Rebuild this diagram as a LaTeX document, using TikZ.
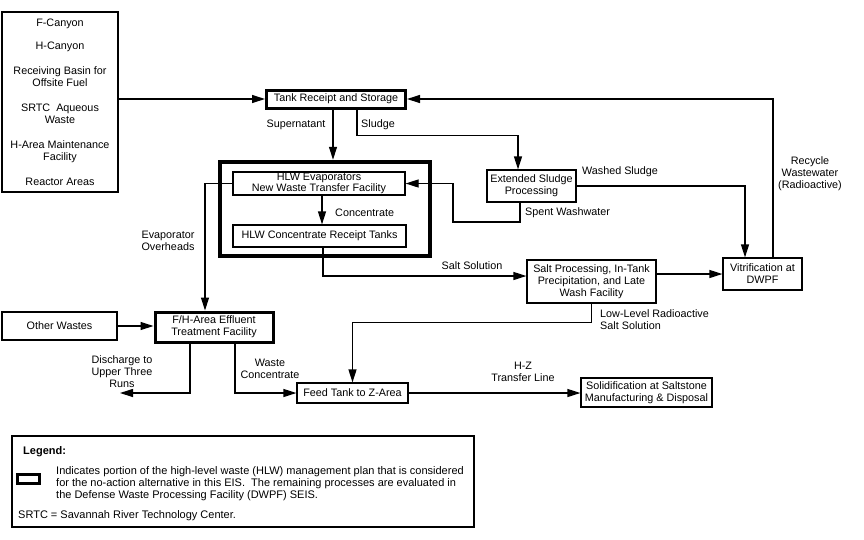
\documentclass[tikz,border=0pt]{standalone}
\usepackage{fontspec}
\setmainfont{Liberation Sans}
\usetikzlibrary{arrows.meta}

\begin{document}
\begin{tikzpicture}[x=1pt,y=1pt,font=\fontsize{10.8}{12}\selectfont,
    flow/.style={draw,line width=1.2pt,-{Triangle[length=13pt,width=8pt]}},
    box/.style={draw,line width=1.2pt,align=center},
    heavybox/.style={draw,line width=3pt,align=center},
    lbl/.style={align=center}]
    \tikzstyle{every node}+=[inner sep=0pt]
    \useasboundingbox (0,0) rectangle (864,-539);
    \node [box,minimum width=116pt,minimum height=180pt] (sources) at (60,-102) {F-Canyon\\[11pt]H-Canyon\\[13pt]Receiving Basin for\\Offsite Fuel\\[13pt]SRTC~ Aqueous\\Waste\\[13pt]H-Area Maintenance\\Facility\\[13pt]Reactor Areas};
    \node [heavybox,minimum width=139pt,minimum height=18pt] (tank) at (336,-99) {Tank Receipt and Storage};
    \node [draw,line width=4.5pt,minimum width=210pt,minimum height=94pt] (hlwarea) at (325,-209) {};
    \node [box,minimum width=172pt,minimum height=23pt,font=\fontsize{10.8}{9.5}\selectfont] (evap) at (319,-183.5) {HLW Evaporators\\New Waste Transfer Facility};
    \node [box,minimum width=173pt,minimum height=22pt] (conc) at (319.5,-236) {HLW Concentrate Receipt Tanks};
    \node [box,minimum width=89pt,minimum height=32pt] (esp) at (531.5,-186) {Extended Sludge\\Processing};
    \node [box,minimum width=129pt,minimum height=43pt] (salt) at (591.5,-281.5) {Salt Processing, In-Tank\\Precipitation, and Late\\Wash Facility};
    \node [box,minimum width=79pt,minimum height=32pt] (vit) at (762.5,-274) {Vitrification at\\DWPF};
    \node [heavybox,minimum width=118pt,minimum height=30pt] (fh) at (214,-327) {F/H-Area Effluent\\Treatment Facility};
    \node [box,minimum width=115pt,minimum height=28pt] (other) at (59.5,-326) {Other Wastes};
    \node [box,minimum width=111pt,minimum height=20pt] (feed) at (352.5,-393) {Feed Tank to Z-Area};
    \node [box,minimum width=131pt,minimum height=29pt] (solid) at (646.5,-392.5) {Solidification at Saltstone\\Manufacturing \& Disposal};
    \coordinate (spent) at (453,-222);
    \coordinate (discharge) at (120,-393);
    \draw [flow] (sources.east |- tank.west) -- (tank.west);
    \draw [flow] ([xshift=10.5pt]vit.north) |- (tank.east);
    \draw [flow] ([xshift=-3pt]tank.south) -- ([xshift=-3pt]tank.south |- hlwarea.north);
    \draw [flow] ([xshift=21pt]tank.south) -- ++(0,-26) -| ([xshift=-13.5pt]esp.north);
    \draw [flow] ([xshift=-11.5pt]esp.south) |- (spent) |- (evap.east);
    \draw [flow] (esp.east) -| ([xshift=-17.5pt]vit.north);
    \draw [flow] ([xshift=3pt]evap.south) -- ([xshift=3pt]evap.south |- conc.north);
    \draw [flow] ([xshift=3.5pt]conc.south) |- ([yshift=5.5pt]salt.west);
    \draw [flow] (salt.east |- vit.west) -- (vit.west);
    \draw [flow] (salt.south) -- ++(0,-19) -| (feed.north);
    \draw [flow] (evap.west) -| ([xshift=-9pt]fh.north);
    \draw [flow] (other.east) -- (other.east -| fh.west);
    \draw [flow] ([xshift=-24pt]fh.south) |- (discharge);
    \draw [flow] ([xshift=21pt]fh.south) |- (feed.west);
    \draw [flow] (feed.east) -- (feed.east -| solid.west);
    \node [lbl] (supernatantlbl) at (296,-125) {Supernatant};
    \node [lbl] (sludgelbl) at (378,-125) {Sludge};
    \node [lbl] (washedlbl) at (620,-172) {Washed Sludge};
    \node [lbl,anchor=west] (spentlbl) at (525,-213) {Spent Washwater};
    \node [lbl,anchor=west] (conclbl) at (335,-213) {Concentrate};
    \node [lbl] (recyclelbl) at (810,-174) {Recycle\\Wastewater\\(Radioactive)};
    \node [lbl] (evaplbl) at (168,-241) {Evaporator\\Overheads};
    \node [lbl] (saltlbl) at (472,-266) {Salt Solution};
    \node [lbl,align=left,anchor=west] (lowlbl) at (600,-319.5) {Low-Level Radioactive\\Salt Solution};
    \node [lbl] (dischargelbl) at (122,-372) {Discharge to\\Upper Three\\Runs};
    \node [lbl] (wastelbl) at (270,-369) {Waste\\Concentrate};
    \node [lbl] (hzlbl) at (523,-372) {H-Z\\Transfer Line};
    \node [box,minimum width=462pt,minimum height=91pt] (legend) at (243,-481.5) {};
    \node [anchor=west,font=\fontsize{11}{12}\selectfont\bfseries] (legendtitle) at (23,-452) {Legend:};
    \draw [line width=3pt] (17,-474) rectangle (39,-483);
    \node [align=left,anchor=north west,font=\fontsize{11}{12}\selectfont] (legendtext) at (56,-466) {Indicates portion of the high-level waste (HLW) management plan that is considered\\for the no-action alternative in this EIS.~ The remaining processes are evaluated in\\the Defense Waste Processing Facility (DWPF) SEIS.};
    \node [anchor=west,font=\fontsize{11}{12}\selectfont] (srtclbl) at (18,-516) {SRTC = Savannah River Technology Center.};
\end{tikzpicture}
\end{document}
